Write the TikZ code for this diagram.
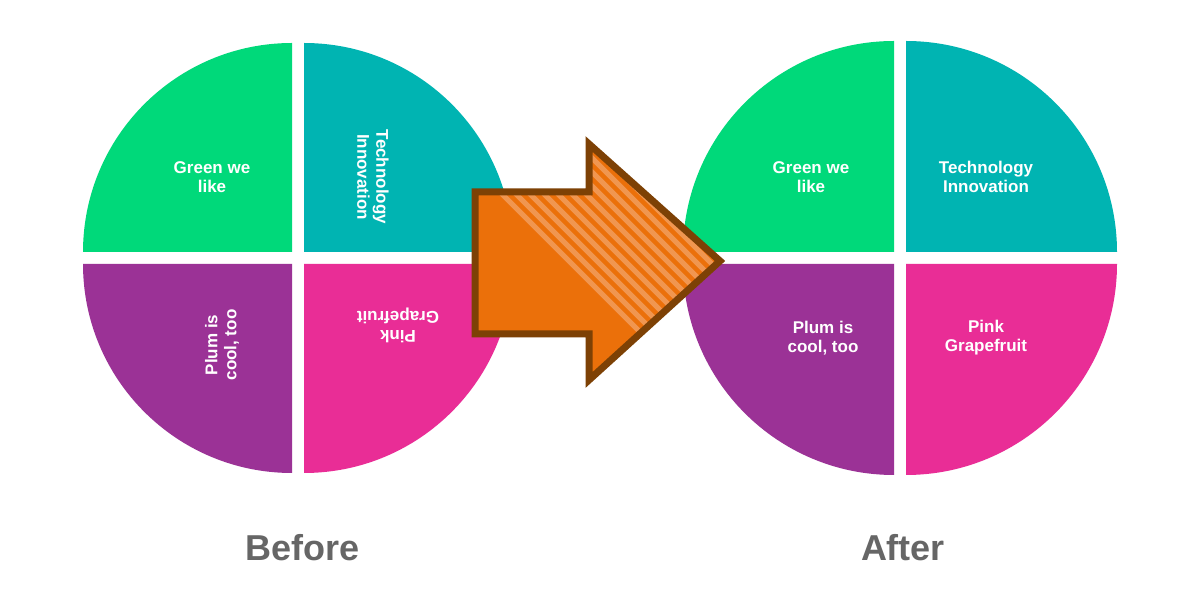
\documentclass[tikz,border=0pt]{standalone}
\usepackage{fontspec}
\setmainfont{Liberation Sans}
\begin{document}
\begin{tikzpicture}[x=1pt,y=1pt,
  qtext/.style={text=white,font=\bfseries\fontsize{17}{19}\selectfont,align=center},
  lbl/.style={text=black!60,font=\bfseries\fontsize{36}{40}\selectfont}]
\definecolor{cgreen}{RGB}{0,217,122}
\definecolor{cteal}{RGB}{0,180,178}
\definecolor{cplum}{RGB}{155,50,150}
\definecolor{cpink}{RGB}{233,45,150}
\definecolor{corange}{RGB}{235,112,10}
\definecolor{cstripe}{RGB}{240,150,80}
\definecolor{cbrown}{RGB}{125,65,5}
\useasboundingbox (0,0) rectangle (1202,602);
\fill[white] (0,0) rectangle (1202,602);
\def\g{6}
% left circle
\foreach \cx/\R in {298/215,900/217}{
  \fill[cgreen] (\cx-\g,344+\g) -- ++(-\R+\g,0) arc[start angle=180,end angle=90,radius=\R-\g] -- cycle;
  \fill[cteal] (\cx+\g,344+\g) -- ++(0,\R-\g) arc[start angle=90,end angle=0,radius=\R-\g] -- cycle;
  \fill[cplum] (\cx-\g,344-\g) -- ++(-\R+\g,0) arc[start angle=180,end angle=270,radius=\R-\g] -- cycle;
  \fill[cpink] (\cx+\g,344-\g) -- ++(0,-\R+\g) arc[start angle=270,end angle=360,radius=\R-\g] -- cycle;
}
\node[qtext] (bg) at (212,425) {Green we\\like};
\node[qtext,rotate=-90] (bt) at (373,425) {Technology\\Innovation};
\node[qtext,rotate=90] (bp) at (222,257) {Plum is\\cool, too};
\node[qtext,rotate=180] (bk) at (398,277) {Pink\\Grapefruit};
\node[qtext] (ag) at (811,425) {Green we\\like};
\node[qtext] (at) at (986,425) {Technology\\Innovation};
\node[qtext] (ap) at (823,264) {Plum is\\cool, too};
\node[qtext] (ak) at (986,264) {Pink\\Grapefruit};
\node[lbl] (before) at (303,54) {Before};
\node[lbl] (after) at (903,54) {After};
% arrow
\def\arr{(475,410) -- (589,410) -- (589,458) -- (720,341) -- (589,222) -- (589,268) -- (475,268) -- cycle}
\begin{scope}
\clip \arr;
\fill[corange] (470,215) rectangle (725,460);
\foreach \i in {0,...,40}{
  \draw[cstripe,line width=5] (440+14*\i,470) -- ++(300,-300);
}
\end{scope}
\draw[cbrown,line width=7,line join=miter] \arr;
\end{tikzpicture}
\end{document}
